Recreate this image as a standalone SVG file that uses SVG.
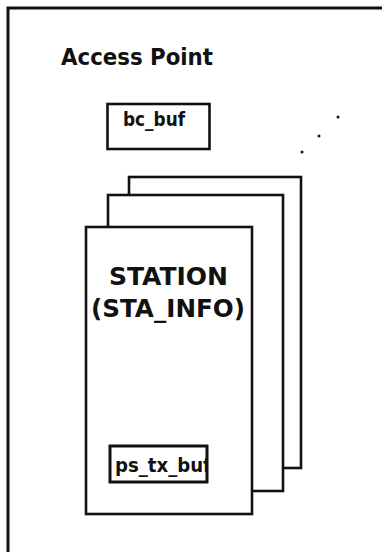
<svg xmlns="http://www.w3.org/2000/svg" width="382" height="552" viewBox="0 0 382 552">
  <style>
    .box { fill: #ffffff; stroke: #111111; stroke-width: 2.6; }
    .frame { fill: none; stroke: #111111; stroke-width: 3; }
    .lbl { font-family: "DejaVu Sans", "Liberation Sans", sans-serif; font-weight: bold; fill: #111111; }
    .dot { fill: #111111; }
  </style>
  <defs>
    <clipPath id="psclip">
      <rect x="110" y="440" width="97" height="50"/>
    </clipPath>
  </defs>
  <rect width="382" height="552" fill="#ffffff"/>

  <g id="access-point">
    <path class="frame" d="M8 552 V8 H382"/>
    <text class="lbl" x="61" y="65" font-size="22.5" textLength="152" lengthAdjust="spacingAndGlyphs">Access Point</text>
  </g>

  <g id="bc_buf">
    <rect class="box" x="107.5" y="104" width="102" height="45"/>
    <text class="lbl" x="123" y="126" font-size="19" textLength="62" lengthAdjust="spacingAndGlyphs">bc_buf</text>
  </g>

  <g id="more-stations">
    <circle class="dot" cx="338" cy="117" r="1.5"/>
    <circle class="dot" cx="319" cy="136" r="1.5"/>
    <circle class="dot" cx="302" cy="152" r="1.5"/>
  </g>

  <g id="station-3">
    <rect class="box" x="129" y="177" width="172" height="291"/>
  </g>
  <g id="station-2">
    <rect class="box" x="108" y="195" width="175" height="296"/>
  </g>

  <g id="station">
    <rect class="box" x="86" y="227" width="166" height="287"/>
    <text class="lbl" x="109" y="285" font-size="24" textLength="119" lengthAdjust="spacingAndGlyphs">STATION</text>
    <text class="lbl" x="91" y="317" font-size="24" textLength="154" lengthAdjust="spacingAndGlyphs">(STA_INFO)</text>
  </g>

  <g id="ps_tx_buf">
    <rect class="box" x="110" y="446" width="97" height="36"/>
    <g clip-path="url(#psclip)">
      <text class="lbl" x="115" y="472" font-size="19.5" textLength="96" lengthAdjust="spacingAndGlyphs">ps_tx_buf</text>
    </g>
    <rect x="110" y="446" width="97" height="36" fill="none" stroke="#111111" stroke-width="2.6"/>
  </g>
</svg>
